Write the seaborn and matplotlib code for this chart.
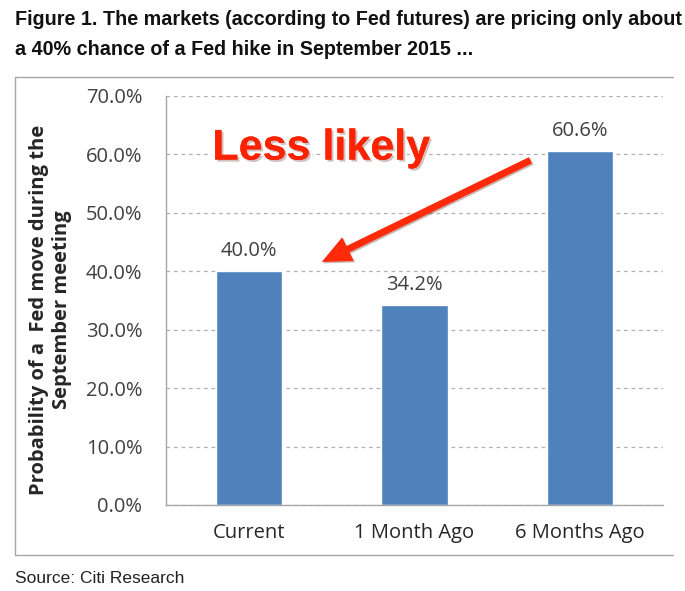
import matplotlib
matplotlib.use("Agg")
import matplotlib.pyplot as plt
import matplotlib.patheffects as pe
from matplotlib.lines import Line2D
from matplotlib.ticker import FixedLocator, PercentFormatter
import seaborn as sns
import pandas as pd

# Veriler
categories = ["Current", "1 Month Ago", "6 Months Ago"]
probabilities = [40.0, 34.2, 60.6]
y_ticks = [0, 10, 20, 30, 40, 50, 60, 70]

df = pd.DataFrame({"period": categories, "prob": probabilities})

sns.set_style("white")
body_font = ["Open Sans", "DejaVu Sans"]
title_font = ["Liberation Sans", "DejaVu Sans"]

W, H = 685, 591
fig = plt.figure(figsize=(6.85, 5.91), dpi=100)
ax = fig.add_axes([166 / W, 86 / H, 497 / W, 409 / H])

sns.barplot(data=df, x="period", y="prob", color="#4F81BD", width=0.40,
            saturation=1, ax=ax)

ax.set_xlim(-0.5, 2.5)
ax.set_ylim(0, 70)
ax.yaxis.set_major_locator(FixedLocator(y_ticks))
ax.yaxis.set_major_formatter(PercentFormatter(decimals=1))
ax.yaxis.grid(True, color="#B0B0B0", linestyle=(0, (3, 3)), linewidth=0.9)
ax.set_axisbelow(True)

# x ekseni: etiketler ortada, çentikler sınırlarda
ax.set_xticks([0, 1, 2], minor=True)
ax.set_xticklabels(categories, minor=True)
ax.set_xticks([-0.5, 0.5, 1.5, 2.5])
ax.set_xticklabels([])
ax.tick_params(axis="x", which="minor", length=0, pad=13, labelsize=14.5,
               labelcolor="#262626")
ax.tick_params(axis="x", which="major", length=6, color="#A6A6A6", direction="out")
ax.tick_params(axis="y", length=6, color="#A6A6A6", direction="out", pad=11,
               labelsize=14.5, labelcolor="#404040")
for lab in ax.get_xticklabels(minor=True) + ax.get_yticklabels():
    lab.set_family(body_font)

for s in ["top", "right"]:
    ax.spines[s].set_visible(False)
for s in ["left", "bottom"]:
    ax.spines[s].set_color("#A6A6A6")
    ax.spines[s].set_linewidth(1.0)

ax.set_xlabel("")
ax.set_ylabel("")
fig.text(51 / W, 1 - 310 / H, "Probability of a  Fed move during the\nSeptember meeting",
         rotation=90, ha="center", va="center", fontsize=14.5, fontweight="bold",
         color="#262626", family=body_font, linespacing=1.2, multialignment="center")

# Değer etiketleri
for i, v in enumerate(probabilities):
    ax.text(i, v + 1.7, f"{v:.1f}%", ha="center", va="bottom", fontsize=14.5,
            color="#404040", family=body_font)

# Ok ve açıklama
ax.annotate("", xy=(0.44, 41.6), xytext=(1.70, 59.0),
            arrowprops=dict(arrowstyle="simple,head_length=2.1,head_width=1.9,tail_width=0.5",
                            color="#FF2A0A", lw=0, shrinkA=0, shrinkB=0,
                            path_effects=[pe.SimplePatchShadow(offset=(1, -1), alpha=0.3),
                                          pe.Normal()]))
ax.text(0.435, 61.0, "Less likely", ha="center", va="center", fontsize=31,
        fontweight="bold", color="#FF2200", family=["Liberation Sans", "DejaVu Sans"],
        path_effects=[pe.withStroke(linewidth=5, foreground="white"),
                      pe.SimplePatchShadow(offset=(1.5, -1.5), alpha=0.25),
                      pe.Normal()])

# Çerçeve (sağ kenar görünmüyor)
box_kw = dict(transform=fig.transFigure, color="#A6A6A6", linewidth=1.0)
fig.add_artist(Line2D([15 / W, 15 / W], [1 - 77 / H, 1 - 555 / H], **box_kw))
fig.add_artist(Line2D([15 / W, 673 / W], [1 - 77 / H, 1 - 77 / H], **box_kw))
fig.add_artist(Line2D([15 / W, 673 / W], [1 - 555 / H, 1 - 555 / H], **box_kw))

fig.text(15 / W, 1 - 25 / H,
         "Figure 1. The markets (according to Fed futures) are pricing only about",
         fontsize=14.2, fontweight="bold", color="#111111", family=title_font,
         va="baseline", ha="left")
fig.text(15 / W, 1 - 55 / H, "a 40% chance of a Fed hike in September 2015 ...",
         fontsize=14.2, fontweight="bold", color="#111111", family=title_font,
         va="baseline", ha="left")
fig.text(15 / W, 1 - 583 / H, "Source: Citi Research", fontsize=12.5,
         color="#222222", family=title_font, va="baseline", ha="left")

fig.savefig("out.png", dpi=100)
